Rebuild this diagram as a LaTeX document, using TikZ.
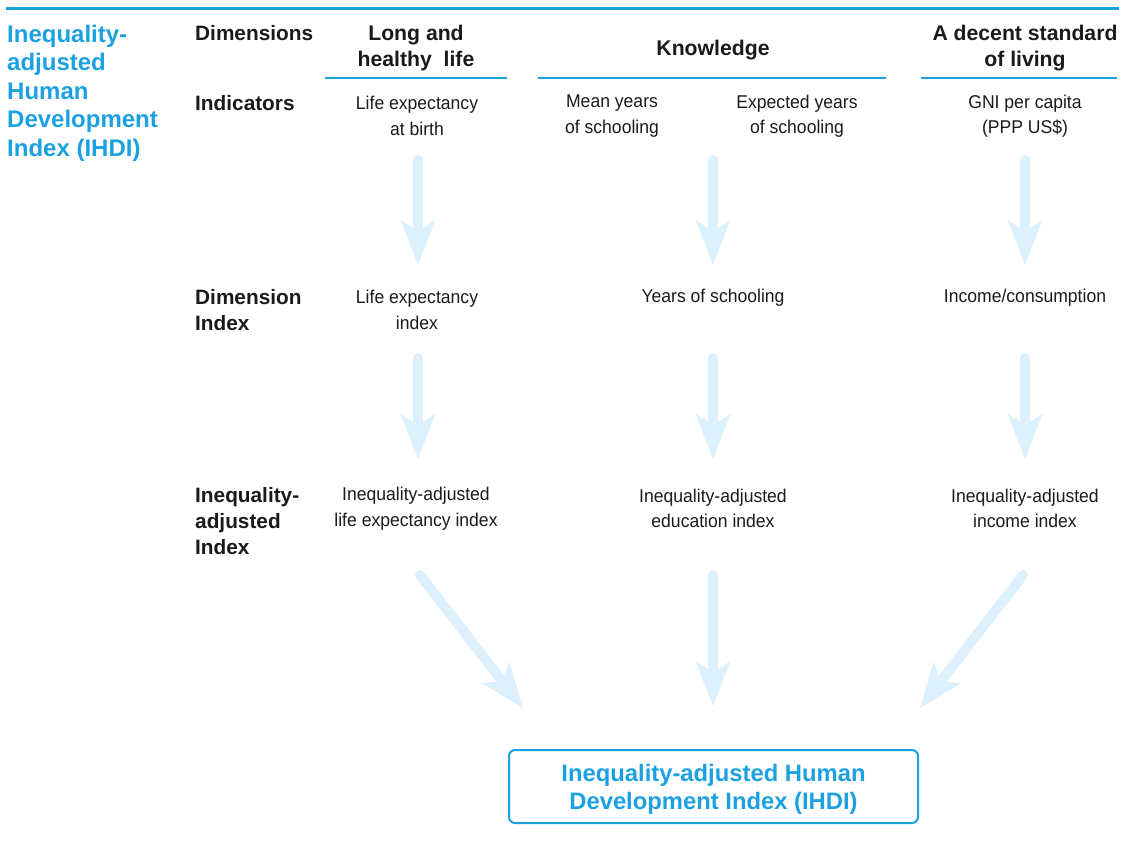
\documentclass[tikz,border=0pt]{standalone}
\usepackage{fontspec}
\setmainfont{Liberation Sans}
\newfontfamily\narrowfont[FakeStretch=0.95]{Liberation Sans}
\usetikzlibrary{arrows.meta}
\definecolor{ihdiblue}{HTML}{1BA1E2}
\definecolor{arrowblue}{HTML}{DDF0FD}
\definecolor{inktext}{HTML}{1A1A1A}
\tikzset{
  titletext/.style={font=\bfseries\fontsize{24}{28.5}\selectfont, text=ihdiblue, align=left, anchor=west, inner sep=0pt},
  rowlabel/.style={font=\bfseries\fontsize{20.8}{26}\selectfont, text=inktext, align=left, anchor=west, inner sep=0pt},
  header/.style={font=\bfseries\fontsize{21.2}{26}\selectfont, text=inktext, align=center, inner sep=0pt},
  cell/.style={font=\narrowfont\fontsize{18.5}{25.5}\selectfont, text=inktext, align=center, inner sep=0pt},
  rule/.style={draw=ihdiblue, line width=1.5pt},
  flow/.style={draw=arrowblue, line width=10pt, line cap=round,
    -{Stealth[length=45pt 0 0, width=35pt 0 0, inset=11pt 0 0, line width=0pt 0 0, fill=arrowblue]}},
  resultbox/.style={draw=ihdiblue, line width=2pt, rounded corners=6pt, minimum width=409pt, minimum height=73pt,
    font=\bfseries\fontsize{23.8}{28}\selectfont, text=ihdiblue, align=center, inner sep=0pt,
    text height=47pt, text depth=1pt}
}
\begin{document}
\begin{tikzpicture}[x=1pt,y=-1pt]
\useasboundingbox (0,0) rectangle (1123,849);
\draw[ihdiblue, line width=3pt] (6,8) -- (1119,8);

\node[titletext] (title) at (7,93) {Inequality-\\adjusted\\Human\\Development\\Index (IHDI)};

% row labels
\node[rowlabel] (ldim) at (195,33) {Dimensions};
\node[rowlabel] (lind) at (195,103) {Indicators};
\node[rowlabel] (ldimidx) at (195,310) {Dimension\\Index};
\node[rowlabel] (lineq) at (195,521.5) {Inequality-\\adjusted\\Index};

% headers
\node[header] (hlife) at (416,48.5) {Long and\\healthy\ \ life};
\node[header] (hknow) at (713,50.5) {Knowledge};
\node[header] (hliving) at (1025,48.5) {A decent standard\\of living};
\draw[rule] (325,78) -- (507,78);
\draw[rule] (538,78) -- (886,78);
\draw[rule] (921,78) -- (1117,78);

% indicators
\node[cell] (ilife) at (417,116) {Life expectancy\\at birth};
\node[cell] (imean) at (612,116) {Mean years\\of schooling};
\node[cell] (iexp) at (797,116) {Expected years\\of schooling};
\node[cell] (ignik) at (1025,116) {GNI per capita\\(PPP US\$)};

% dimension indices
\node[cell] (dlife) at (417,310) {Life expectancy\\index};
\node[cell] (dedu) at (713,298) {Years of schooling};
\node[cell] (dinc) at (1025,298) {Income/consumption};

% inequality-adjusted indices
\node[cell] (qlife) at (416,508.5) {Inequality-adjusted\\life expectancy index};
\node[cell] (qedu) at (713,508.5) {Inequality-adjusted\\education index};
\node[cell] (qinc) at (1025,508.5) {Inequality-adjusted\\income index};

% result
\node[resultbox] (ihdi) at (713.5,786.5) {Inequality-adjusted Human\\Development Index (IHDI)};

% arrow coordinates
\coordinate (a1s) at (418,160); \coordinate (a1e) at (418,265);
\coordinate (a2s) at (713,160); \coordinate (a2e) at (713,265);
\coordinate (a3s) at (1025,160); \coordinate (a3e) at (1025,265);
\coordinate (b1s) at (418,358); \coordinate (b1e) at (418,459);
\coordinate (b2s) at (713,358); \coordinate (b2e) at (713,459);
\coordinate (b3s) at (1025,358); \coordinate (b3e) at (1025,459);
\coordinate (c1s) at (420,575); \coordinate (c1e) at (523,708);
\coordinate (c2s) at (713,575); \coordinate (c2e) at (713,706);
\coordinate (c3s) at (1023,575); \coordinate (c3e) at (920,708);

\draw[flow] (a1s) -- (a1e);
\draw[flow] (a2s) -- (a2e);
\draw[flow] (a3s) -- (a3e);
\draw[flow] (b1s) -- (b1e);
\draw[flow] (b2s) -- (b2e);
\draw[flow] (b3s) -- (b3e);
\draw[flow] (c1s) -- (c1e);
\draw[flow] (c2s) -- (c2e);
\draw[flow] (c3s) -- (c3e);
\end{tikzpicture}
\end{document}
